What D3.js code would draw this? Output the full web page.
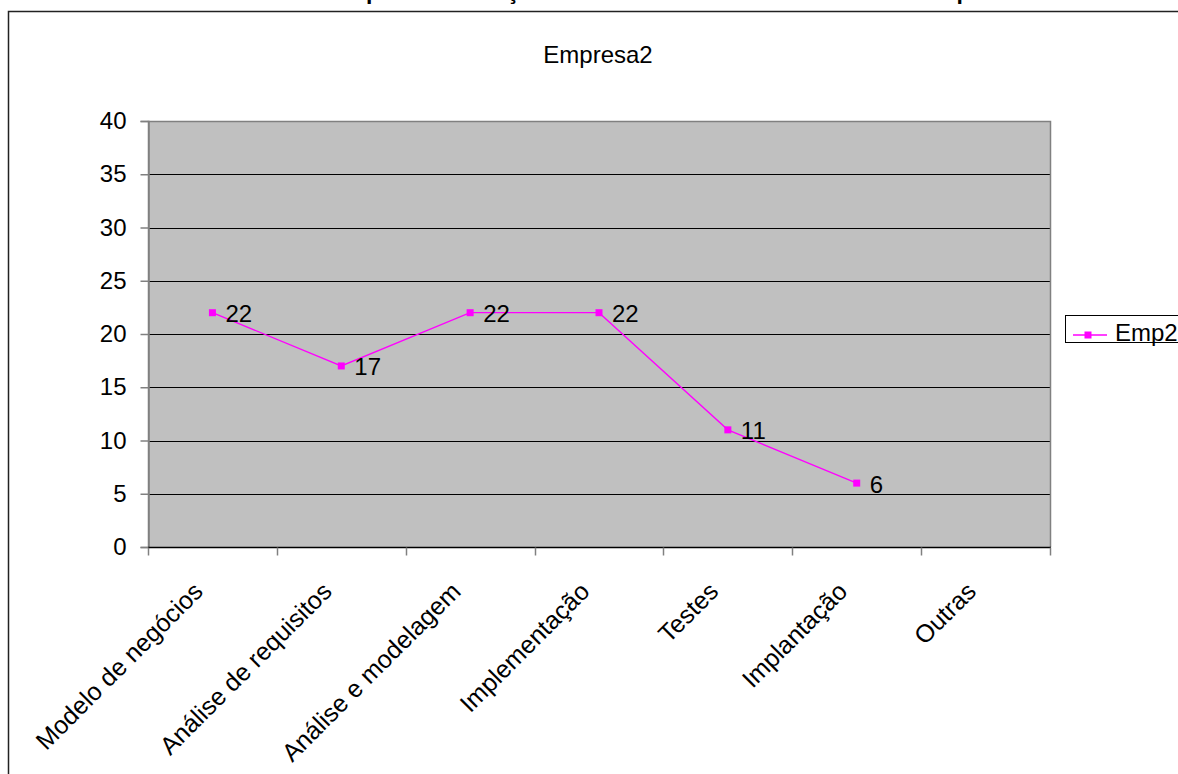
<!DOCTYPE html>
<html>
<head>
<meta charset="utf-8">
<script src="https://cdn.jsdelivr.net/npm/d3@7"></script>
<style>
  html, body { margin: 0; padding: 0; background: #fff; }
  svg { display: block; }
  text { font-family: Arial, "Liberation Sans", sans-serif; }
</style>
</head>
<body>
<svg id="chart" width="1178" height="774"></svg>
<script>
// Chart data
const categories = ["Modelo de negócios", "Análise de requisitos", "Análise e modelagem",
                    "Implementação", "Testes", "Implantação", "Outras"];
const seriesName = "Emp2";
const values = [22, 17, 22, 22, 11, 6, null];
const yTicks = [0, 5, 10, 15, 20, 25, 30, 35, 40];
const chartTitle = "Empresa2";
const sheetTitle = "Tempo de dedicação às fases de desenvolvimento nas empresas";

const svg = d3.select("#chart");
const plot = { left: 148, right: 1050, top: 121, bottom: 547 };
const FONT = 24;

// Outer sheet title (mostly above the visible area)
const st = svg.append("text")
  .attr("y", -1)
  .attr("font-size", 23)
  .attr("font-weight", "bold")
  .attr("fill", "#000")
  .text(sheetTitle);
const pExt = st.node().getExtentOfChar(3);
st.attr("x", 373 - (pExt.x + pExt.width / 2));

// Chart frame
svg.append("rect")
  .attr("x", 8.5).attr("y", 11.5)
  .attr("width", 1200).attr("height", 800)
  .attr("fill", "#fff")
  .attr("stroke", "#222").attr("stroke-width", 1.5);

// Chart title
svg.append("text")
  .attr("x", 598).attr("y", 63)
  .attr("text-anchor", "middle")
  .attr("font-size", FONT)
  .text(chartTitle);

// Scales
const x = d3.scaleBand().domain(categories).range([plot.left, plot.right]).padding(0);
const y = d3.scaleLinear().domain([0, 40]).range([plot.bottom, plot.top]);

// Plot background
svg.append("rect")
  .attr("x", plot.left).attr("y", plot.top)
  .attr("width", plot.right - plot.left).attr("height", plot.bottom - plot.top)
  .attr("fill", "#C0C0C0");

// Gridlines
svg.append("g").selectAll("line")
  .data(yTicks.filter(d => d > 0 && d < 40))
  .join("line")
  .attr("x1", plot.left).attr("x2", plot.right)
  .attr("y1", d => Math.round(y(d)) + 0.5).attr("y2", d => Math.round(y(d)) + 0.5)
  .attr("stroke", "#000").attr("stroke-width", 1);

// Plot border (top / right / left)
svg.append("path")
  .attr("d", `M${plot.left + 0.5},${plot.bottom} V${plot.top + 0.5} H${plot.right + 0.5} V${plot.bottom}`)
  .attr("fill", "none").attr("stroke", "#808080").attr("stroke-width", 1.5);

// Y axis
const yAxis = svg.append("g")
  .attr("transform", `translate(${plot.left + 0.5},0)`)
  .call(d3.axisLeft(y).tickValues(yTicks).tickSize(8).tickPadding(14).tickFormat(d3.format("d")));
yAxis.select(".domain").attr("stroke", "#808080").attr("stroke-width", 1.5);
yAxis.selectAll(".tick line").attr("stroke", "#808080").attr("stroke-width", 1.5);
yAxis.selectAll(".tick text")
  .attr("font-size", FONT).attr("fill", "#000")
  .attr("font-family", "Arial, 'Liberation Sans', sans-serif");

// X axis with tick marks at category boundaries
const xAxis = svg.append("g")
  .attr("transform", `translate(0,${plot.bottom + 0.5})`);
xAxis.append("line")
  .attr("x1", plot.left).attr("x2", plot.right + 1)
  .attr("stroke", "#000").attr("stroke-width", 1.5);
const boundaries = categories.map(c => x(c)).concat([x(categories[categories.length - 1]) + x.bandwidth()]);
xAxis.selectAll("line.tk")
  .data(boundaries)
  .join("line")
  .attr("class", "tk")
  .attr("x1", d => Math.round(d) + 0.5).attr("x2", d => Math.round(d) + 0.5)
  .attr("y1", 0).attr("y2", 8)
  .attr("stroke", "#808080").attr("stroke-width", 1.5);

// Rotated category labels
svg.append("g").selectAll("text")
  .data(categories)
  .join("text")
  .attr("transform", d => `translate(${x(d) + x.bandwidth() / 2 - 8},${plot.bottom + 46}) rotate(-45)`)
  .attr("text-anchor", "end")
  .attr("font-size", 25)
  .text(d => d);

// Series line and markers
const pts = categories.map((c, i) => ({ c, v: values[i] })).filter(d => d.v !== null);
const cx = d => x(d.c) + x.bandwidth() / 2;

svg.append("path")
  .datum(pts)
  .attr("d", d3.line().x(cx).y(d => y(d.v)))
  .attr("fill", "none").attr("stroke", "#FF00FF").attr("stroke-width", 1.3);

svg.append("g").selectAll("rect")
  .data(pts)
  .join("rect")
  .attr("x", d => cx(d) - 3.5).attr("y", d => y(d.v) - 3.5)
  .attr("width", 7).attr("height", 7)
  .attr("fill", "#FF00FF");

// Data labels
svg.append("g").selectAll("text")
  .data(pts)
  .join("text")
  .attr("x", d => cx(d) + 13).attr("y", d => y(d.v) + 9.5)
  .attr("font-size", FONT)
  .text(d => d.v);

// Legend
const lg = svg.append("g");
lg.append("rect")
  .attr("x", 1065.5).attr("y", 315.5).attr("width", 140).attr("height", 27)
  .attr("fill", "#fff").attr("stroke", "#000").attr("stroke-width", 1);
lg.append("line")
  .attr("x1", 1073).attr("x2", 1107).attr("y1", 335).attr("y2", 335)
  .attr("stroke", "#FF00FF").attr("stroke-width", 1.3);
lg.append("rect")
  .attr("x", 1084.5).attr("y", 331.5).attr("width", 7).attr("height", 7)
  .attr("fill", "#FF00FF");
lg.append("text")
  .attr("x", 1115).attr("y", 341)
  .attr("font-size", FONT)
  .text(seriesName);
</script>
</body>
</html>
